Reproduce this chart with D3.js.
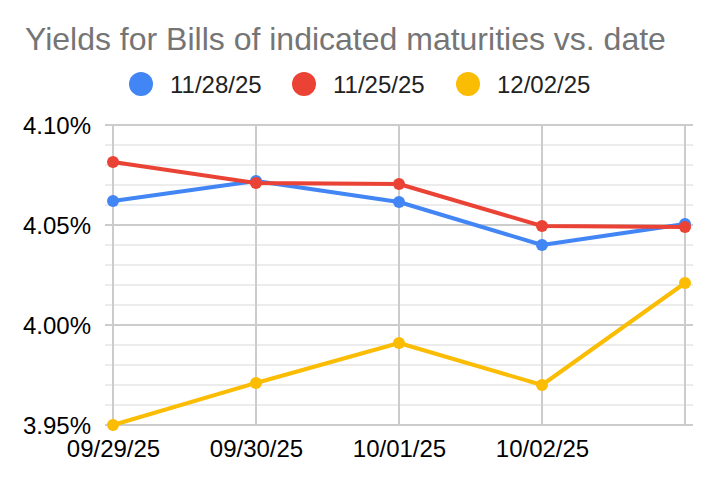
<!DOCTYPE html>
<html>
<head>
<meta charset="utf-8">
<script src="https://cdn.jsdelivr.net/npm/d3@7"></script>
<style>
  html, body { margin: 0; padding: 0; background: #fff; }
  text { font-family: Arial, "Liberation Sans", sans-serif; }
</style>
</head>
<body>
<div id="chart"></div>
<script>
// Daten
const dates = ["09/29/25", "09/30/25", "10/01/25", "10/02/25", ""];
const seriesNames = ["11/28/25", "11/25/25", "12/02/25"];
const seriesColors = ["#4285f4", "#ea4335", "#fbbc04"];
const yield1128 = [4.062, 4.072, 4.0615, 4.040, 4.0505];
const yield1125 = [4.0815, 4.071, 4.0705, 4.0495, 4.049];
const yield1202 = [3.950, 3.971, 3.991, 3.970, 4.021];
const yTicks = [3.95, 4.00, 4.05, 4.10];

const series = [yield1128, yield1125, yield1202].map((v, i) => ({
  name: seriesNames[i], color: seriesColors[i], values: v
}));

const width = 718, height = 486;
const svg = d3.select("#chart").append("svg")
  .attr("width", width)
  .attr("height", height);

const plotLeft = 105, plotRight = 693, plotTop = 125, plotBottom = 425;

const x = d3.scalePoint()
  .domain(d3.range(dates.length))
  .range([113, 685]);

const y = d3.scaleLinear()
  .domain([3.95, 4.10])
  .range([plotBottom, plotTop]);

// Nebengitterlinien (alle 0,01)
const minor = d3.range(3.96, 4.10, 0.01).filter(v => !yTicks.some(t => Math.abs(t - v) < 1e-6));
svg.selectAll(".minor")
  .data(minor)
  .enter().append("line")
  .attr("x1", plotLeft).attr("x2", plotRight)
  .attr("y1", d => y(d)).attr("y2", d => y(d))
  .attr("stroke", "#e6e6e6")
  .attr("stroke-width", 1.5);

// vertikale Gitterlinien
svg.selectAll(".vgrid")
  .data(d3.range(dates.length))
  .enter().append("line")
  .attr("x1", d => x(d)).attr("x2", d => x(d))
  .attr("y1", plotTop).attr("y2", plotBottom)
  .attr("stroke", "#cccccc")
  .attr("stroke-width", 2);

// Hauptgitterlinien
svg.selectAll(".major")
  .data(yTicks)
  .enter().append("line")
  .attr("x1", plotLeft).attr("x2", plotRight)
  .attr("y1", d => y(d)).attr("y2", d => y(d))
  .attr("stroke", "#cccccc")
  .attr("stroke-width", 2);

// Y-Achse
const yAxis = svg.append("g")
  .attr("transform", "translate(91,0)")
  .call(d3.axisLeft(y).tickValues(yTicks).tickSize(0).tickPadding(0).tickFormat(d => d.toFixed(2) + "%"));
yAxis.select(".domain").remove();
yAxis.selectAll("text")
  .attr("fill", "#000")
  .style("font-size", "24px")
  .attr("dy", "0.36em");

// X-Achse
const xAxis = svg.append("g")
  .attr("transform", `translate(0,${plotBottom})`)
  .call(d3.axisBottom(x).tickSize(0).tickPadding(0).tickFormat(i => dates[i]));
xAxis.select(".domain").remove();
xAxis.selectAll("text")
  .attr("fill", "#000")
  .style("font-size", "24px")
  .attr("y", 32)
  .attr("dy", 0);

// Linien und Punkte
const line = d3.line()
  .x((d, i) => x(i))
  .y(d => y(d));

series.forEach(s => {
  svg.append("path")
    .datum(s.values)
    .attr("fill", "none")
    .attr("stroke", s.color)
    .attr("stroke-width", 4)
    .attr("stroke-linejoin", "round")
    .attr("d", line);
  svg.selectAll(null)
    .data(s.values)
    .enter().append("circle")
    .attr("cx", (d, i) => x(i))
    .attr("cy", d => y(d))
    .attr("r", 6)
    .attr("fill", s.color);
});

// Titel
svg.append("text")
  .attr("x", 25)
  .attr("y", 50)
  .attr("fill", "#757575")
  .style("font-size", "32px")
  .text("Yields for Bills of indicated maturities vs. date");

// Legende
const legendX = [141, 304, 468];
series.forEach((s, i) => {
  const g = svg.append("g").attr("transform", `translate(${legendX[i]},84)`);
  g.append("circle").attr("r", 12).attr("fill", s.color);
  g.append("text")
    .attr("x", 29)
    .attr("dy", "0.36em")
    .style("font-size", "24px")
    .attr("fill", "#222")
    .text(s.name);
});
</script>
</body>
</html>
